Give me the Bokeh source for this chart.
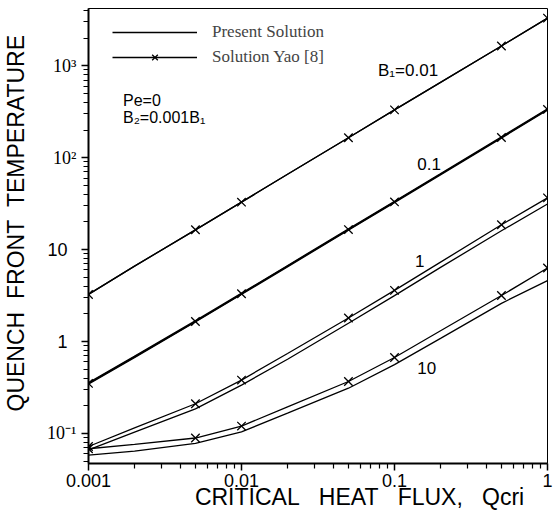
from bokeh.plotting import figure
from bokeh.models import (FixedTicker, CustomJSTickFormatter, Label, LogAxis,
                          Legend, LegendItem, Range1d)
from bokeh.embed import file_html
from bokeh.resources import INLINE

# ---------------- data ----------------
q_line = [0.001, 0.002, 0.005, 0.01, 0.02, 0.05, 0.1, 0.2, 0.5, 1.0]
q_mark = [0.001, 0.005, 0.01, 0.05, 0.1, 0.5, 1.0]

present_b001 = [3.25, 6.6, 16.4, 32.8, 66.0, 165.0, 331.0, 660.0, 1640.0, 3300.0]
present_b01 = [0.35, 0.68, 1.66, 3.3, 6.6, 16.5, 33.0, 66.0, 166.0, 335.0]
present_b1 = [0.066, 0.103, 0.185, 0.335, 0.64, 1.58, 3.15, 6.4, 16.0, 31.3]
present_b10 = [0.058, 0.064, 0.078, 0.104, 0.166, 0.31, 0.56, 1.08, 2.6, 4.6]

# Yao [8]: curve values on q_line, marker values on q_mark
yao_line_b001 = [3.25, 6.6, 16.4, 32.8, 66.0, 165.0, 331.0, 660.0, 1640.0, 3300.0]
yao_line_b01 = [0.35, 0.68, 1.65, 3.3, 6.6, 16.5, 33.0, 66.0, 166.0, 335.0]
yao_line_b1 = [0.072, 0.115, 0.21, 0.38, 0.74, 1.8, 3.6, 7.3, 18.6, 36.5]
yao_line_b10 = [0.068, 0.076, 0.089, 0.12, 0.194, 0.367, 0.67, 1.31, 3.16, 6.3]

yao_b001 = [3.25, 16.4, 32.8, 165.0, 331.0, 1640.0, 3300.0]
yao_b01 = [0.35, 1.65, 3.3, 16.5, 33.0, 166.0, 335.0]
yao_b1 = [0.072, 0.21, 0.38, 1.8, 3.6, 18.6, 36.5]
yao_b10 = [0.068, 0.089, 0.12, 0.367, 0.67, 3.16, 6.3]

x_ticks = [0.001, 0.01, 0.1, 1.0]
y_ticks = [0.1, 1.0, 10.0, 100.0, 1000.0]
y_ticks_sans = [1.0, 10.0]          # labelled in sans-serif in the original
y_ticks_serif = [0.1, 100.0, 1000.0]  # labelled as powers of ten (serif)

SANS = "Liberation Sans"
SERIF = "Liberation Serif"
NB = "\u00a0"

p = figure(width=556, height=516, x_axis_type="log", y_axis_type="log",
           x_range=Range1d(0.001, 1.0), y_range=Range1d(0.047, 4200),
           output_backend="svg", toolbar_location=None,
           min_border_left=84, min_border_right=9, min_border_top=8,
           min_border_bottom=53, background_fill_color="white",
           border_fill_color="white")
p.grid.visible = False
p.outline_line_color = "black"
p.outline_line_width = 1.0

minor_x = [m * 10.0 ** e for e in range(-3, 0) for m in range(2, 10)]
minor_y = [m * 10.0 ** e for e in range(-2, 4) for m in range(2, 10)]
p.xaxis.ticker = FixedTicker(ticks=x_ticks, minor_ticks=minor_x)
p.yaxis.ticker = FixedTicker(ticks=y_ticks, minor_ticks=minor_y)
p.xaxis.formatter = CustomJSTickFormatter(code="return tick.toString();")
p.yaxis.formatter = CustomJSTickFormatter(code="""
const m = {"0.1": "10\\u207b\\u00b9", "100": "10\\u00b2", "1000": "10\\u00b3"};
const k = tick.toString();
return (k in m) ? m[k] : "";
""")

for ax in (p.xaxis[0], p.yaxis[0]):
    ax.axis_line_width = 2
    ax.axis_line_color = "black"
    ax.major_tick_in = 0
    ax.major_tick_out = 7
    ax.minor_tick_in = 0
    ax.minor_tick_out = 5
    ax.major_tick_line_width = 1.5
    ax.minor_tick_line_width = 1.2
    ax.major_tick_line_color = "black"
    ax.minor_tick_line_color = "black"

p.xaxis.major_label_text_font = SANS
p.xaxis.major_label_text_font_size = "18px"
p.xaxis.major_label_text_color = "black"
p.xaxis.major_label_standoff = 3
# leading no-break spaces shift the centred title to the right, as in the original
p.xaxis.axis_label = (NB * 13 + "CRITICAL" + NB * 3 + "HEAT" + NB * 3 + "FLUX,"
                      + NB * 3 + "Qcri")
p.xaxis.axis_label_text_font = SANS
p.xaxis.axis_label_text_font_size = "23px"
p.xaxis.axis_label_text_font_style = "normal"
p.xaxis.axis_label_text_color = "black"
p.xaxis.axis_label_standoff = -6

p.yaxis.major_label_text_font = SERIF
p.yaxis.major_label_text_font_size = "18px"
p.yaxis.major_label_text_color = "black"
p.yaxis.major_label_standoff = 5

# outer y axis carrying the sans-serif labels "1", "10" and the axis title
y2 = LogAxis(ticker=FixedTicker(ticks=y_ticks_sans, minor_ticks=[]),
             formatter=CustomJSTickFormatter(code="return tick.toString();"),
             axis_line_color=None, major_tick_line_color=None,
             minor_tick_line_color=None, major_tick_out=0, major_tick_in=0,
             minor_tick_out=0, minor_tick_in=0,
             major_label_text_font=SANS, major_label_text_font_size="18px",
             major_label_text_color="black", major_label_standoff=-23,
             axis_label=NB * 4 + "QUENCH" + NB * 2 + "FRONT" + NB * 2 + "TEMPERATURE",
             axis_label_text_font=SANS, axis_label_text_font_size="23px",
             axis_label_text_font_style="normal", axis_label_text_color="black",
             axis_label_standoff=15)
p.add_layout(y2, "left")

# ---------------- curves ----------------
w = 1.3
r_present = p.line(q_line, present_b001, line_color="black", line_width=w)
p.line(q_line, present_b01, line_color="black", line_width=2.4)
p.line(q_line, present_b1, line_color="black", line_width=w)
p.line(q_line, present_b10, line_color="black", line_width=w)

yao_renderers = []
for yl, ym in ((yao_line_b001, yao_b001), (yao_line_b01, yao_b01),
               (yao_line_b1, yao_b1), (yao_line_b10, yao_b10)):
    rl = p.line(q_line, yl, line_color="black", line_width=w)
    rm = p.scatter(q_mark, ym, marker="x", size=12, line_color="black", line_width=1.3)
    yao_renderers.append((rl, rm))

legend = Legend(items=[
    LegendItem(label="Present Solution", renderers=[r_present]),
    LegendItem(label="Solution Yao [8]", renderers=list(yao_renderers[0])),
], location=(24, 396), glyph_width=85, glyph_height=20, spacing=5,
   label_standoff=15, padding=10, margin=0,
   label_text_font=SERIF, label_text_font_size="17px",
   border_line_color=None, background_fill_alpha=0)
p.add_layout(legend, "center")

# ---------------- annotations ----------------
def lab(x, y, t, size="17px"):
    p.add_layout(Label(x=x, y=y, text=t, text_font=SANS, text_font_size=size,
                       text_align="left", text_baseline="middle", text_color="black"))

lab(0.00168, 417, "Pe=0", "16px")
lab(0.00168, 272, "B\u2082=0.001B\u2081", "16px")
lab(0.078, 883, "B\u2081=0.01")
lab(0.141, 86, "0.1")
lab(0.136, 7.6, "1")
lab(0.141, 0.52, "10")

open("out.html", "w").write(file_html(p, INLINE))
